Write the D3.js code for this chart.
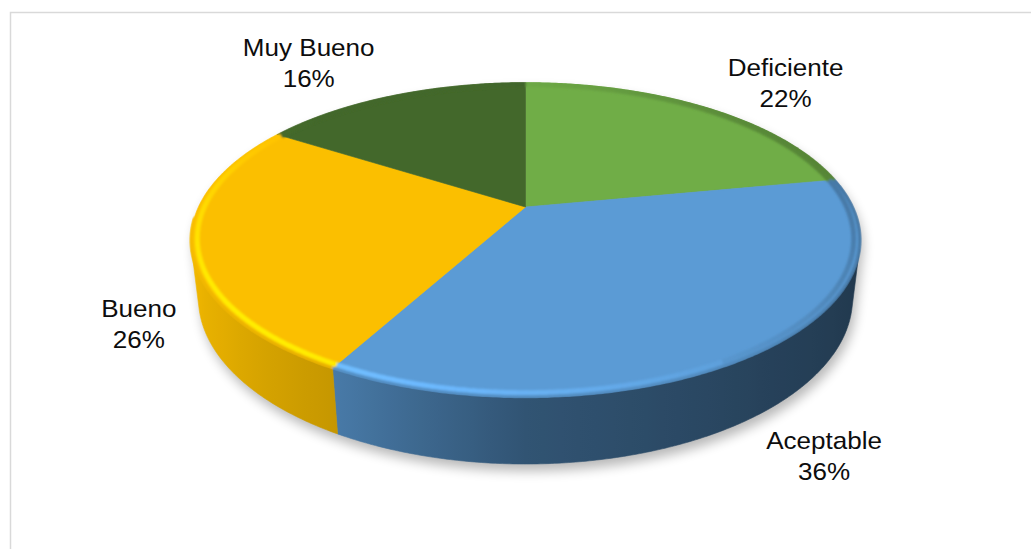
<!DOCTYPE html>
<html>
<head>
<meta charset="utf-8">
<script src="https://cdn.jsdelivr.net/npm/d3@7"></script>
<style>
  html, body { margin: 0; padding: 0; background: #fff; overflow: hidden; }
  svg { display: block; }
</style>
</head>
<body>
<svg id="chart" width="1031" height="549"></svg>
<script>
// ---- data ----
const categories = ["Deficiente", "Aceptable", "Bueno", "Muy Bueno"];
const values = [22, 36, 26, 16];
const percentLabels = ["22%", "36%", "26%", "16%"];

// ---- styles ----
const sliceColors = ["#70AD47", "#5B9BD5", "#FBBF00", "#43682B"];
// small label offsets (px) applied after the outward placement
const labelNudge = [[-3, -5], [56, -8], [13, -7], [-18, 0]];

const W = 1031, H = 549;
const rad = Math.PI / 180;
const svg = d3.select("#chart");
const defs = svg.append("defs");

// chart frame
svg.append("rect")
  .attr("x", 10.5).attr("y", 12.5)
  .attr("width", W + 40).attr("height", H + 40)
  .attr("fill", "#fff")
  .attr("stroke", "#D9D9D9").attr("stroke-width", 1.5);

// ---- 3D view: disc of radius 1, thickness h, seen from above in perspective ----
const view = { cx: 525.5, cy: 207, f: 1389.6, D: 4.248, tilt: Math.asin(0.4594), h: 0.2017 };
const sT = Math.sin(view.tilt), cT = Math.cos(view.tilt);

// phi: angle clockwise from the far side (12 o'clock), r: radius, z: height (0 = top face)
function project(phi, r, z) {
  const X = r * Math.sin(phi), Y = r * Math.cos(phi);
  const depth = view.D + Y * cT - z * sT;
  const up = Y * sT + z * cT;
  return [view.cx + view.f * X / depth, view.cy - view.f * up / depth];
}
function rimPoints(a0, a1, r, z) {
  const n = Math.max(2, Math.ceil(Math.abs(a1 - a0) / (0.5 * rad)));
  return d3.range(n + 1).map(i => project(a0 + (a1 - a0) * i / n, r, z));
}
const line = d3.line();

const arcs = d3.pie().sort(null).value(d => d)(values);

// visible part of the outer wall (faces the viewer)
const phiMin = Math.acos(-1 / (view.D * cT));
const phiMax = 2 * Math.PI - phiMin;

// wall shading along the front, by angle
const wallLight = d3.scaleLinear()
  .domain([105, 140, 180, 209, 235, 255].map(d => d * rad))
  .range([0.36, 0.42, 0.54, 0.79, 0.9, 0.96])
  .clamp(true);
function shade(col, k) {
  const c = d3.rgb(col);
  return d3.rgb(c.r * k, c.g * k, c.b * k).formatHex();
}

// horizontal span of the wall for gradients
const wallXs = d3.range(0, 121).map(i => project(phiMax - (phiMax - phiMin) * i / 120, 1, -view.h / 2)[0]);
const xLeft = d3.min(wallXs), xRight = d3.max(wallXs);

arcs.forEach((a, i) => {
  const g = defs.append("linearGradient")
    .attr("id", "wall-" + i)
    .attr("gradientUnits", "userSpaceOnUse")
    .attr("x1", xLeft).attr("x2", xRight).attr("y1", 0).attr("y2", 0);
  let last = 0;
  d3.range(0, 61).forEach(k => {
    const phi = phiMax - (phiMax - phiMin) * k / 60;
    const x = project(phi, 1, -view.h / 2)[0];
    let off = Math.max(last, Math.min(1, (x - xLeft) / (xRight - xLeft)));
    last = off;
    g.append("stop").attr("offset", off).attr("stop-color", shade(sliceColors[i], wallLight(phi)));
  });
});

// filters
const shadowF = defs.append("filter").attr("id", "soft-shadow")
  .attr("x", "-20%").attr("y", "-20%").attr("width", "140%").attr("height", "140%");
shadowF.append("feGaussianBlur").attr("stdDeviation", 6);
const bevelF = defs.append("filter").attr("id", "bevel-blur")
  .attr("x", "-10%").attr("y", "-10%").attr("width", "120%").attr("height", "120%");
bevelF.append("feGaussianBlur").attr("stdDeviation", 1.1);

// outline of the top face, and a slightly wider clip for the rim shading
const topOutline = line(rimPoints(0, 2 * Math.PI, 1, 0)) + "Z";
defs.append("clipPath").attr("id", "top-clip").append("path")
  .attr("d", line(rimPoints(0, 2 * Math.PI, 1.005, 0)) + "Z");

// ---- shadow under the pie ----
const fullWall = line(rimPoints(phiMin, phiMax, 1, 0).concat(rimPoints(phiMin, phiMax, 1, -view.h).reverse())) + "Z";
const shadowG = svg.append("g")
  .attr("transform", "translate(3,7)")
  .attr("filter", "url(#soft-shadow)")
  .attr("opacity", 0.28);
shadowG.append("path").attr("d", topOutline).attr("fill", "#000");
shadowG.append("path").attr("d", fullWall).attr("fill", "#000");

// ---- outer walls ----
const wallG = svg.append("g");
arcs.forEach((a, i) => {
  const lo = Math.max(a.startAngle, phiMin), hi = Math.min(a.endAngle, phiMax);
  if (hi <= lo) return;
  const pts = rimPoints(lo, hi, 1, 0).concat(rimPoints(lo, hi, 1, -view.h).reverse());
  wallG.append("path")
    .attr("d", line(pts) + "Z")
    .attr("fill", `url(#wall-${i})`)
    .attr("stroke", `url(#wall-${i})`)
    .attr("stroke-width", 0.6);
});

// ---- top faces ----
const topG = svg.append("g");
arcs.forEach((a, i) => {
  const pts = [project(0, 0, 0)].concat(rimPoints(a.startAngle, a.endAngle, 1, 0));
  topG.append("path")
    .attr("d", line(pts) + "Z")
    .attr("fill", sliceColors[i])
    .attr("stroke", sliceColors[i])
    .attr("stroke-width", 0.6)
    .attr("stroke-linejoin", "round");
});

// ---- rounded rim (light on the left/front, dark on the right) ----
const bevelG = svg.append("g").attr("clip-path", "url(#top-clip)")
  .append("g").attr("filter", "url(#bevel-blur)");
arcs.forEach((a, i) => {
  const base = d3.rgb(sliceColors[i]);
  const light = base.brighter(0.7), dark = base.darker(1.3);
  const step = 1.5 * rad;
  for (let phi = a.startAngle; phi < a.endAngle; phi += step) {
    const p1 = Math.min(a.endAngle, phi + step);
    const pEnd = Math.min(a.endAngle, p1 + 0.3 * rad);
    const mid = (phi + p1) / 2;
    const hl = Math.pow(Math.max(0, Math.cos(mid - 225 * rad)), 1.5);
    const sh = Math.pow(Math.max(0, Math.cos(mid - 75 * rad)), 1.5);
    // inner band: highlight or shade
    const col = hl >= sh
      ? d3.interpolateRgb(base, light)(hl * 0.85)
      : d3.interpolateRgb(base, dark)(sh * 0.6);
    bevelG.append("path")
      .attr("d", line(rimPoints(phi, pEnd, 0.982, 0)))
      .attr("fill", "none")
      .attr("stroke", col)
      .attr("stroke-width", 5);
    // outer edge: rolls down towards the wall
    const edge = 0.65 * sh + 0.25 * Math.max(0, -Math.cos(mid));
    if (edge > 0.02) {
      bevelG.append("path")
        .attr("d", line(rimPoints(phi, pEnd, 1.0, 0)))
        .attr("fill", "none")
        .attr("stroke", d3.interpolateRgb(base, dark)(edge))
        .attr("stroke-width", 3.5);
    }
  }
});

// ---- data labels ----
const ys = [project(0, 1, 0)[1], project(Math.PI, 1, -view.h)[1]];
const box = {
  cx: (xLeft + xRight) / 2,
  cy: (ys[0] + ys[1]) / 2,
  hw: (xRight - xLeft) / 2,
  hh: (ys[1] - ys[0]) / 2
};
const labelG = svg.append("g")
  .attr("font-family", "'Liberation Sans', Arial, sans-serif")
  .attr("font-size", 24)
  .attr("fill", "#0d0d0d")
  .attr("text-anchor", "middle");
arcs.forEach((a, i) => {
  const mid = (a.startAngle + a.endAngle) / 2;
  const lx = box.cx + 1.25 * Math.sin(mid) * box.hw + labelNudge[i][0];
  const ly = box.cy - 1.25 * Math.cos(mid) * box.hh + labelNudge[i][1];
  const g = labelG.append("g").attr("transform", `translate(${lx},${ly}) scale(1.085,1)`);
  g.append("text").attr("x", 0).attr("y", -9).text(categories[i]);
  g.append("text").attr("x", 0).attr("y", 22).text(percentLabels[i]);
});
</script>
</body>
</html>
